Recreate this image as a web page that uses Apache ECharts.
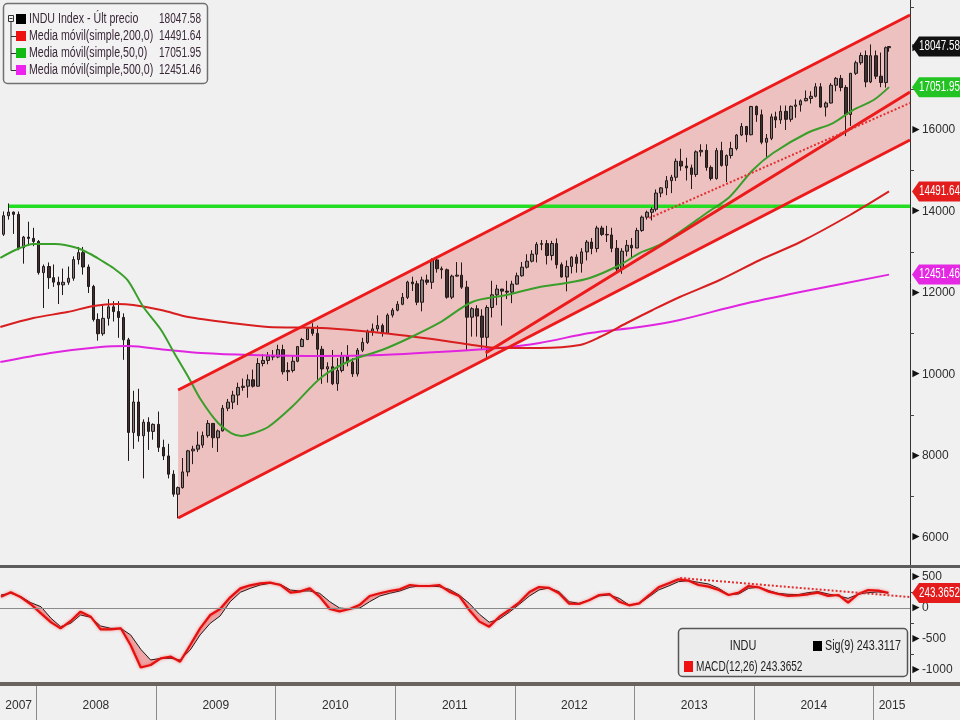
<!DOCTYPE html>
<html><head><meta charset="utf-8">
<script src="https://cdn.jsdelivr.net/npm/echarts@6/dist/echarts.min.js"></script>
<style>html,body{margin:0;padding:0;background:#f0f0f0}#c{width:960px;height:720px}</style>
</head><body><div id="c"></div>
<script>
const FONT = "'Liberation Sans',Arial,sans-serif";
const t = s => { const p = s.split('-').map(Number); return new Date(p[0], p[1] - 1, p[2]).getTime(); };
const X_MIN = '2007-09-12', X_MAX = '2015-04-22';

// ---- semi-monthly candles (dates = mid points of each half month) ----
const candleDates = [];
for (let y = 2007; y <= 2015; y++) for (let m = 1; m <= 12; m++) for (const d of [8, 23]) {
  const s = y + '-' + String(m).padStart(2, '0') + '-' + String(d).padStart(2, '0');
  if (s >= '2007-09-20' && s <= '2015-02-08') candleDates.push(s);
}
candleDates.push('2015-02-17');

const priceOpen = [
13442,13896,13985,13930,13110,13372,13340,
13265,12500,12650,12376,12266,12200,12263,12362,12820,12990,12638,12160,11350,11000,11378,11660,11544,11400,10851,8578,9325,8497,8829,8604,
8776,8212,8001,7553,7063,7224,7609,8126,8168,8268,8500,8799,8447,8616,9172,9321,9496,9683,9712,9870,9713,10270,10345,10450,
10428,10610,10067,10099,10325,10685,10857,11123,11009,10620,10137,10190,9774,10098,10466,10303,10015,10595,10788,11062,11118,11201,11006,11457,
11578,11723,11892,12268,12226,11774,12320,12263,12811,12596,12570,11897,12414,12437,12143,11406,11614,11433,10913,11644,11955,12096,12046,12021,
12218,12422,12633,12780,12952,13194,13212,12921,13214,12695,12393,12651,12880,12727,13009,13250,13091,13594,13437,13425,13096,12588,13026,13170,
13104,13534,13861,13981,14054,14452,14579,14756,14840,15233,15116,15070,14910,15464,15500,15081,14810,15494,15130,15373,15546,15876,16086,15884,
16577,16373,15699,15795,16322,16247,16458,16262,16581,16614,16717,16775,16827,17060,16563,16662,17098,17266,17043,16380,17391,17650,17828,17180,
17823,17320,17165,18019];
const priceClose = [
13896,13985,13930,13110,13372,13340,13265,
12500,12650,12376,12266,12200,12263,12362,12820,12990,12638,12160,11350,11000,11378,11660,11544,11400,10851,8578,9325,8497,8829,8604,8776,
8212,8001,7553,7063,7224,7609,8126,8168,8268,8500,8799,8447,8616,9172,9321,9496,9683,9712,9870,9713,10270,10345,10450,10428,
10610,10067,10099,10325,10685,10857,11123,11009,10620,10137,10190,9774,10098,10466,10303,10015,10595,10788,11062,11118,11201,11006,11457,11578,
11723,11892,12268,12226,11774,12320,12263,12811,12596,12570,11897,12414,12437,12143,11406,11614,11433,10913,11644,11955,12096,12046,12021,12218,
12422,12633,12780,12952,13194,13212,12921,13214,12695,12393,12651,12880,12727,13009,13250,13091,13594,13437,13425,13096,12588,13026,13170,13104,
13534,13861,13981,14054,14452,14579,14756,14840,15233,15116,15070,14910,15464,15500,15081,14810,15494,15130,15373,15546,15876,16086,15884,16577,
16373,15699,15795,16322,16247,16458,16262,16581,16614,16717,16775,16827,17060,16563,16662,17098,17266,17043,16380,17391,17650,17828,17180,17823,
17320,17165,18019,18048];
const priceLow = [
13400,13800,13450,13050,12720,13200,13150,
12450,11630,12100,12150,11730,11950,12200,12300,12700,12450,12000,11300,10830,10950,11200,11300,10900,10360,7880,8175,8350,7450,8150,8400,
8100,7900,7450,7000,6470,7200,7500,7800,8100,8200,8450,8200,8100,8600,9100,9150,9250,9600,9430,9680,9700,10200,10250,10350,
10400,10000,9840,10050,10300,10680,10850,10950,9870,9770,9800,9740,9600,10050,10200,9940,9950,10550,10750,10950,11050,10930,11000,11400,
11550,11700,11850,12050,11700,11550,12200,12100,12500,12350,11860,11850,12400,12100,10600,10930,10930,10600,10400,11400,11700,11200,11850,11750,
12200,12400,12600,12750,12750,13050,12700,12800,12600,12380,12040,12480,12500,12500,12800,12950,13000,13400,13250,13000,12500,12470,12900,12880,
13100,13500,13800,13780,14000,14350,14400,14450,14750,15000,14760,14550,14850,15350,15000,14760,14780,15100,14720,15300,15500,15850,15700,15870,
16200,15650,15340,15750,16050,16150,16000,16200,16300,16450,16700,16650,16800,16550,16330,16650,16950,16950,15850,16100,17350,17600,17050,17150,
17250,17050,17040,17920];
const priceHigh = [
14000,14198,14000,14000,13400,13750,13600,
13300,12700,12750,12700,12400,12600,12650,12900,13130,13130,12700,12200,11500,11700,11850,11800,11800,11500,10900,9600,9650,8900,8950,8800,
9090,8400,8300,7650,7250,7950,8150,8250,8600,8600,8880,8800,8650,9250,9400,9600,9800,9900,10000,10120,10400,10500,10550,10600,
10730,10730,10300,10450,10700,10900,11150,11260,11200,10700,10300,10600,10400,10550,10720,10400,10650,10900,11100,11250,11450,11250,11500,11630,
11800,12000,12300,12400,12300,12400,12450,12850,12900,12650,12600,12450,12760,12750,12300,11650,11700,11600,11700,12300,12200,12100,12300,12300,
12500,12760,12950,13050,13250,13300,13300,13280,13340,12750,12800,12900,12950,13100,13300,13350,13650,13650,13650,13600,13300,13100,13300,13350,
13600,13900,14020,14100,14540,14600,14870,14900,15300,15540,15320,15150,15500,15650,15650,15130,15560,15710,15400,15710,15900,16170,16100,16590,
16600,16500,15900,16400,16450,16600,16600,16600,16750,16750,16970,16950,17150,17150,16700,17150,17300,17350,17100,17400,17700,17900,17950,18100,
17950,17900,18050,18060];

// ---- moving averages ----
const ma50Dates = ['2007-09-13','2007-10-29','2007-12-23','2008-02-28','2008-05-05','2008-06-14','2008-07-15','2008-08-23','2008-10-05','2008-11-23','2009-01-16','2009-02-25','2009-04-09','2009-05-18','2009-07-09','2009-08-18','2009-09-18','2009-10-27','2009-12-09','2010-02-19','2010-05-22','2010-08-21','2010-11-21','2011-02-13','2011-05-15','2011-08-24','2011-12-06','2012-03-17','2012-06-08','2012-08-17','2012-11-17','2013-01-16','2013-03-18','2013-05-19','2013-08-09','2013-10-18','2013-12-28','2014-02-28','2014-06-12','2014-08-30','2014-10-30','2015-01-01','2015-02-17'];
const ma50Vals = [12860,13055,13200,13200,13105,12957,12810,12613,12320,11656,11092,10527,9940,9374,8810,8564,8490,8564,8711,9202,9940,10355,10600,10896,11264,11780,11950,12147,12245,12368,12687,12980,13178,13497,13963,14356,15018,15436,15926,16170,16490,16736,17052];
const ma200Dates = ['2007-09-13','2007-12-23','2008-04-05','2008-06-23','2008-09-04','2008-10-23','2009-01-16','2009-04-09','2009-08-18','2009-12-09','2010-05-22','2010-11-21','2011-05-15','2011-08-24','2011-11-15','2012-03-17','2012-07-18','2012-09-17','2012-12-08','2013-02-25','2013-05-19','2013-09-18','2014-01-19','2014-05-22','2014-10-21','2015-02-17'];
const ma200Vals = [11166,11386,11533,11681,11730,11705,11583,11411,11264,11166,11141,11018,10847,10724,10650,10650,10724,10920,11264,11583,11902,12319,12810,13251,13914,14492];
const ma500Dates = ['2007-09-13','2008-02-13','2008-07-15','2008-10-05','2009-02-06','2009-05-18','2009-10-17','2010-05-22','2010-11-21','2011-05-15','2011-11-15','2012-03-17','2012-08-17','2013-01-16','2013-05-19','2013-11-17','2014-05-22','2015-02-17'];
const ma500Vals = [10307,10528,10675,10700,10601,10528,10479,10454,10479,10552,10650,10773,11018,11166,11337,11706,12024,12451];

// ---- trend lines ----
const channelDates = ['2009-03-09', X_MAX];
const channelUpper = [9620, 18822];
const channelLower = [6478, 15755];
const supportDates = ['2011-10-04', X_MAX];
const supportVals = [10528, 16933];
const dottedDates = ['2013-02-15', X_MAX];
const dottedVals = [13840, 16663];
const resistDates = ['2007-10-09', X_MAX];
const resistVals = [14130, 14130];

// ---- MACD (monthly) ----
const macdDates = [];
for (let y = 2007; y <= 2015; y++) for (let m = 1; m <= 12; m++) {
  const s = y + '-' + String(m).padStart(2, '0') + '-15';
  if (s >= '2007-09-15' && s <= '2015-02-15') macdDates.push(s);
}
const macdVals = [183,253,172,60,
-86,-231,-328,-210,-59,-140,-344,-344,-328,-600,-960,-920,
-812,-785,-866,-597,-328,-113,-16,172,317,366,398,409,
371,248,264,317,183,-16,-54,-16,54,194,237,274,
301,371,355,355,371,264,194,-32,-220,-301,-140,-32,
91,258,339,323,237,70,64,124,210,226,102,43,
75,210,334,398,462,441,371,344,290,210,248,355,
334,264,226,194,205,221,248,194,210,86,226,290,
280,243];
const signalVals = [210,237,183,86,
21,-167,-301,-247,-113,-150,-290,-328,-328,-435,-667,-839,
-812,-812,-839,-677,-435,-247,-129,102,253,317,371,398,
382,290,274,274,237,102,0,-16,0,102,194,237,
274,333,355,355,344,301,210,75,-100,-230,-180,-70,
60,194,290,323,264,102,75,129,194,210,156,48,
70,183,290,355,425,441,414,387,317,215,226,317,
334,280,237,221,215,248,264,226,194,156,221,248,
258,243];
const macdTrendDates = ['2013-05-20', X_MAX];
const macdTrendVals = [484, 177];

// ---- axis ticks / labels ----
const priceLabels = [6000,8000,10000,12000,14000,16000,18000];
const priceMinor = [7000,9000,11000,13000,15000,17000,19000];
const macdLabels = [500,0,-500,-1000];
const macdMinor = [250,-250,-750];
const yearStarts = ['2008-01-01','2009-01-01','2010-01-01','2011-01-01','2012-01-01','2013-01-01','2014-01-01','2015-01-01'];
const yearLabelDates = ['2007-11-08','2008-07-01','2009-07-02','2010-07-02','2011-07-02','2012-07-01','2013-07-02','2014-07-02','2015-02-26'];
const quarterTicks = [];
for (let y = 2007; y <= 2015; y++) for (const m of ['04','07','10']) quarterTicks.push(t(y + '-' + m + '-01'));

// ---- legends / tags ----
const legendNames = ['INDU Index - Últ precio','Media móvil(simple,200,0)','Media móvil(simple,50,0)','Media móvil(simple,500,0)'];
const legendValues = ['18047.58','14491.64','17051.95','12451.46'];
const tagValues = [18047.58, 17051.95, 14491.64, 12451.46];
const macdLast = 243.3652, sigLast = 243.3117;

const chart = echarts.init(document.getElementById('c'));
const xBase = { type: 'time', min: t(X_MIN), max: t(X_MAX), show: false };
const lbl = { fontFamily: FONT, fontSize: 12, color: '#2e2e2e' };
const tri = { a: { fontSize: 12, color: '#111', padding: [0, 0, 1, 0] } };

const option = {
  animation: false,
  backgroundColor: '#f0f0f0',
  grid: [
    { left: 0, top: 0, width: 910, height: 565 },
    { left: 0, top: 569, width: 910, height: 113 },
    { left: 0, top: 686, width: 910, height: 34 }
  ],
  xAxis: [
    Object.assign({ gridIndex: 0 }, xBase),
    Object.assign({ gridIndex: 1 }, xBase),
    { gridIndex: 2, type: 'value', min: t(X_MIN), max: t(X_MAX), position: 'top',
      axisLine: { show: false }, splitLine: { show: false },
      axisTick: { show: true, inside: true, length: 6, lineStyle: { color: '#555' }, customValues: quarterTicks },
      axisLabel: Object.assign({ inside: true, margin: 14, customValues: yearLabelDates.map(t),
        formatter: v => String(new Date(v).getFullYear()) }, lbl) }
  ],
  yAxis: [
    { gridIndex: 0, type: 'value', position: 'right', min: 5325, max: 19190, splitLine: { show: false },
      axisLine: { show: true, lineStyle: { color: '#333', width: 1 } },
      axisTick: { show: true, length: 4, lineStyle: { color: '#444' }, customValues: priceMinor },
      axisLabel: Object.assign({ margin: 0, customValues: priceLabels, formatter: v => '{a|►}' + v, rich: tri }, lbl) },
    { gridIndex: 1, type: 'value', position: 'right', min: -1194, max: 629, splitLine: { show: false },
      axisLine: { show: true, lineStyle: { color: '#333', width: 1 } },
      axisTick: { show: true, length: 4, lineStyle: { color: '#444' }, customValues: macdMinor },
      axisLabel: Object.assign({ margin: 0, customValues: macdLabels, formatter: v => '{a|►}' + v, rich: tri }, lbl) },
    { gridIndex: 2, type: 'value', min: 0, max: 1, show: false }
  ],
  series: [
    { type: 'custom', xAxisIndex: 0, yAxisIndex: 0, silent: true, z: 1,
      data: [[t(channelDates[0]), channelLower[0]]],
      renderItem: (p, api) => ({ type: 'polygon', shape: { points: [
        api.coord([t(channelDates[0]), channelLower[0]]), api.coord([t(channelDates[1]), channelLower[1]]),
        api.coord([t(channelDates[1]), channelUpper[1]]), api.coord([t(channelDates[0]), channelUpper[0]])] },
        style: { fill: 'rgba(234,115,115,0.38)' } }) },
    { type: 'line', xAxisIndex: 0, yAxisIndex: 0, z: 2, symbol: 'none', silent: true,
      data: resistDates.map((d, i) => [t(d), resistVals[i]]), lineStyle: { color: '#22dd22', width: 3.5 } },
    { type: 'candlestick', xAxisIndex: 0, yAxisIndex: 0, z: 3, barWidth: 3,
      data: candleDates.map((d, i) => [t(d), priceOpen[i], priceClose[i], priceLow[i], priceHigh[i]]),
      encode: { x: 0, y: [1, 2, 3, 4] },
      itemStyle: { color: '#8a7d7d', color0: '#3d3030', borderColor: '#221818', borderColor0: '#221818', borderWidth: 1 } },
    { type: 'line', xAxisIndex: 0, yAxisIndex: 0, z: 4, symbol: 'none', smooth: 0.3, silent: true,
      data: ma500Dates.map((d, i) => [t(d), ma500Vals[i]]), lineStyle: { color: '#e024e0', width: 2 } },
    { type: 'line', xAxisIndex: 0, yAxisIndex: 0, z: 4, symbol: 'none', smooth: 0.3, silent: true,
      data: ma200Dates.map((d, i) => [t(d), ma200Vals[i]]), lineStyle: { color: '#d81e1e', width: 2 } },
    { type: 'line', xAxisIndex: 0, yAxisIndex: 0, z: 4, symbol: 'none', smooth: 0.3, silent: true,
      data: ma50Dates.map((d, i) => [t(d), ma50Vals[i]]), lineStyle: { color: '#3a9e2a', width: 2 } },
    { type: 'line', xAxisIndex: 0, yAxisIndex: 0, z: 5, symbol: 'none', silent: true,
      data: channelDates.map((d, i) => [t(d), channelUpper[i]]), lineStyle: { color: '#ec1a1a', width: 3 } },
    { type: 'line', xAxisIndex: 0, yAxisIndex: 0, z: 5, symbol: 'none', silent: true,
      data: channelDates.map((d, i) => [t(d), channelLower[i]]), lineStyle: { color: '#ec1a1a', width: 3 } },
    { type: 'line', xAxisIndex: 0, yAxisIndex: 0, z: 5, symbol: 'none', silent: true,
      data: supportDates.map((d, i) => [t(d), supportVals[i]]), lineStyle: { color: '#ec1a1a', width: 3 } },
    { type: 'line', xAxisIndex: 0, yAxisIndex: 0, z: 5, symbol: 'none', silent: true,
      data: dottedDates.map((d, i) => [t(d), dottedVals[i]]), lineStyle: { color: '#e23030', width: 2, type: [2, 2] } },
    // MACD panel
    { type: 'custom', xAxisIndex: 1, yAxisIndex: 1, silent: true, z: 1,
      data: [[t(macdDates[0]), 0]],
      renderItem: (p, api) => {
        const pts = [];
        for (let i = 0; i < macdDates.length; i++) pts.push(api.coord([t(macdDates[i]), macdVals[i]]));
        for (let i = macdDates.length - 1; i >= 0; i--) pts.push(api.coord([t(macdDates[i]), signalVals[i]]));
        return { type: 'polygon', shape: { points: pts }, style: { fill: 'rgba(236,90,90,0.5)' } };
      } },
    { type: 'line', xAxisIndex: 1, yAxisIndex: 1, z: 3, symbol: 'none', silent: true,
      data: macdDates.map((d, i) => [t(d), signalVals[i]]), lineStyle: { color: '#1a1a1a', width: 1 },
      markLine: { symbol: 'none', silent: true, label: { show: false }, lineStyle: { color: '#8a8a8a', width: 1, type: 'solid' },
        data: [{ yAxis: 0 }] } },
    { type: 'line', xAxisIndex: 1, yAxisIndex: 1, z: 4, symbol: 'none', silent: true,
      data: macdDates.map((d, i) => [t(d), macdVals[i]]),
      lineStyle: { color: '#e41010', width: 2.2, shadowBlur: 3, shadowColor: 'rgba(255,40,40,0.6)' } },
    { type: 'line', xAxisIndex: 1, yAxisIndex: 1, z: 4, symbol: 'none', silent: true,
      data: macdTrendDates.map((d, i) => [t(d), macdTrendVals[i]]), lineStyle: { color: '#e23030', width: 2, type: [2, 2] } },
    // bottom axis year separators
    { type: 'line', xAxisIndex: 2, yAxisIndex: 2, symbol: 'none', silent: true, data: [[t(X_MIN), 0.5]],
      markLine: { symbol: 'none', silent: true, label: { show: false }, lineStyle: { color: '#8c8c8c', width: 1, type: 'solid' },
        data: yearStarts.map(d => ({ xAxis: t(d) })) } }
  ]
};
chart.setOption(option);

// ---- graphics: legends, separators, value tags ----
const g = [];
g.push({ type: 'rect', z: 100, shape: { x: 0, y: 565, width: 960, height: 3 }, style: { fill: '#5c5c5c' } });
g.push({ type: 'rect', z: 100, shape: { x: 0, y: 682, width: 960, height: 4 }, style: { fill: '#6a625c' } });

function txt(x, y, text, size, fill, align, sx) {
  g.push({ type: 'text', z: 111, x: x, y: y, scaleX: sx,
    style: { text: text, fill: fill, font: size + 'px ' + FONT, verticalAlign: 'middle', align: align } });
}

g.push({ type: 'rect', z: 100, shape: { x: 3.5, y: 3.5, width: 204, height: 80, r: 4 }, style: { fill: '#f2f2f2', stroke: '#707070', lineWidth: 1.5 } });
g.push({ type: 'rect', z: 101, shape: { x: 8.5, y: 15.5, width: 5, height: 6 }, style: { fill: 'none', stroke: '#333', lineWidth: 1 } });
g.push({ type: 'line', z: 101, shape: { x1: 9.5, y1: 18.5, x2: 12.5, y2: 18.5 }, style: { stroke: '#333', lineWidth: 1 } });
g.push({ type: 'polyline', z: 101, shape: { points: [[11, 22], [11, 70.5], [16, 70.5]] }, style: { stroke: '#333', lineWidth: 1, fill: null } });
const rowY = [19, 36, 53, 70];
const rowCol = ['#000000', '#ee1111', '#11bb11', '#ee22ee'];
[36, 53].forEach(y => g.push({ type: 'line', z: 101, shape: { x1: 11, y1: y + 0.5, x2: 16, y2: y + 0.5 }, style: { stroke: '#333', lineWidth: 1 } }));
legendNames.forEach((n, i) => {
  g.push({ type: 'rect', z: 101, shape: { x: 16, y: rowY[i] - 5, width: 10, height: 10 }, style: { fill: rowCol[i] } });
  txt(29, rowY[i], n, 14, '#3a2838', 'left', 0.76);
  txt(201, rowY[i], legendValues[i], 14, '#3a2838', 'right', 0.72);
});

// MACD legend
g.push({ type: 'rect', z: 100, shape: { x: 678.5, y: 628.5, width: 229, height: 48, r: 4 }, style: { fill: '#ececec', stroke: '#555', lineWidth: 1.5 } });
txt(743, 646, 'INDU', 14, '#222', 'center', 0.78);
g.push({ type: 'rect', z: 101, shape: { x: 813, y: 641, width: 9, height: 10 }, style: { fill: '#000' } });
txt(825, 646, 'Sig(9) ' + sigLast.toFixed(4), 14, '#222', 'left', 0.77);
g.push({ type: 'rect', z: 101, shape: { x: 684, y: 661, width: 9, height: 11 }, style: { fill: '#ee1111' } });
txt(696, 667, 'MACD(12,26) ' + macdLast.toFixed(4), 14, '#222', 'left', 0.72);

function tag(y, text, bg) {
  g.push({ type: 'polygon', z: 110, shape: { points: [[912, y], [919, y - 10], [962, y - 10], [962, y + 10], [919, y + 10]] }, style: { fill: bg } });
  txt(919, y, text, 14, '#fff', 'left', 0.7);
}
const tagCols = ['#111111', '#22c322', '#e41c1c', '#e428e4'];
tagValues.forEach((v, i) => tag(chart.convertToPixel({ yAxisIndex: 0 }, v), v.toFixed(2), tagCols[i]));
tag(chart.convertToPixel({ yAxisIndex: 1 }, macdLast), macdLast.toFixed(4), '#e41c1c');

chart.setOption({ graphic: g });
</script></body></html>
